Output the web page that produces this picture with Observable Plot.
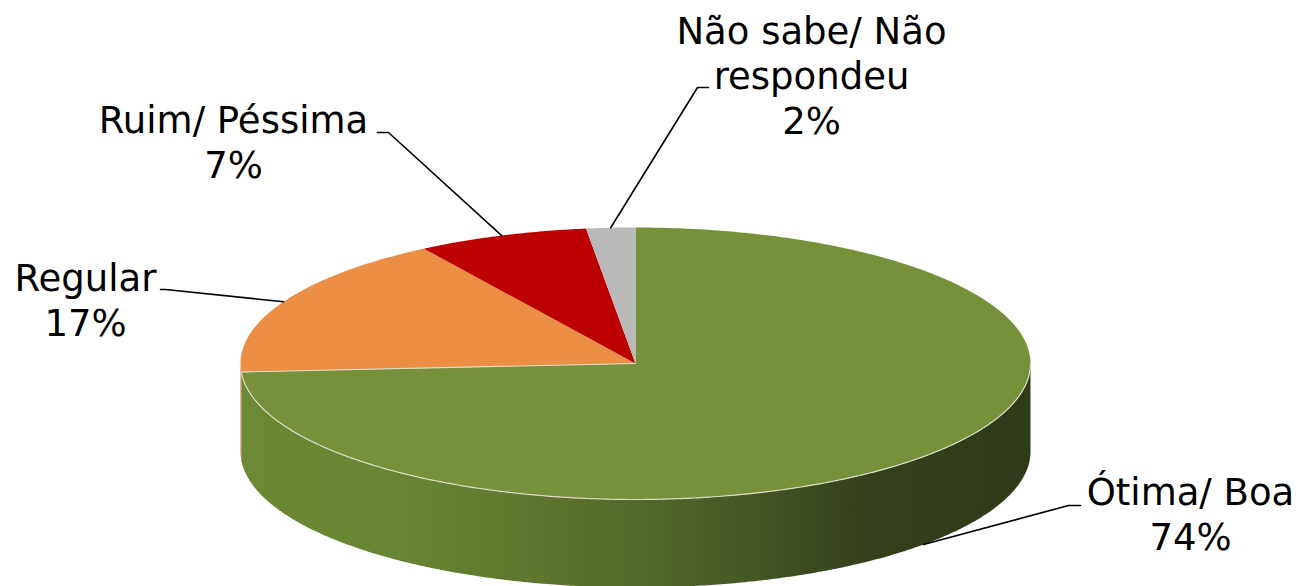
<!DOCTYPE html>
<html>
<head>
<meta charset="utf-8">
<script src="https://cdn.jsdelivr.net/npm/d3@7"></script>
<script src="https://cdn.jsdelivr.net/npm/@observablehq/plot@0.6"></script>
<style>
  html, body { margin: 0; padding: 0; background: #fff; }
  #chart svg { display: block; }
</style>
</head>
<body>
<div id="chart"></div>
<script>
// ---- data ----
const categories = ["Ótima/ Boa", "Regular", "Ruim/ Péssima", "Não sabe/ Não respondeu"];
const values = [74, 17, 7, 2];
const labelLines = [["Ótima/ Boa"], ["Regular"], ["Ruim/ Péssima"], ["Não sabe/ Não", "respondeu"]];

// ---- styles ----
const topColors = ["#76913a", "#ec8f45", "#bc0000", "#b9b9b9"];
const wallStops = [
  [["0%", "#6c8934"], ["20%", "#698532"], ["35%", "#60782f"], ["50%", "#546a2b"], ["65%", "#455624"], ["80%", "#343f1b"], ["100%", "#2f3a19"]],
  [["0%", "#c8763a"], ["100%", "#c8763a"]],
  [["0%", "#9a0000"], ["100%", "#9a0000"]],
  [["0%", "#999999"], ["100%", "#999999"]]
];

// ---- layout ----
const W = 1303, H = 586;
const cx = 635, cy = 363, rx = 395, ry = 136, depth = 88;
const fontSize = 37, lineGap = 45;
// label block: center x, baseline of first line
const labelPos = [[1190, 504], [85, 290], [233, 132], [811, 43]];
// leader lines: kink point and end point (start is computed on the slice)
const leaderKink = [[1068, 505], [165, 289], [388, 132], [697, 87]];
const leaderEnd = [[1080, 505], [160, 289], [377, 132], [708, 87]];

const total = d3.sum(values);
const deg = Math.PI / 180;
const pt = (a, dz = 0) => ({x: cx + rx * Math.sin(a), y: cy - ry * Math.cos(a) + dz});
const arcPts = (a0, a1, dz = 0) => {
  const n = Math.max(2, Math.ceil(Math.abs(a1 - a0) / (0.5 * deg)));
  return d3.range(n + 1).map(i => pt(a0 + (a1 - a0) * i / n, dz));
};

// slice angles clockwise from 12 o'clock
let acc = 0;
const slices = values.map((v, i) => {
  const a0 = acc / total * 2 * Math.PI;
  acc += v;
  const a1 = acc / total * 2 * Math.PI;
  return {i, name: categories[i], value: v, a0, a1, mid: (a0 + a1) / 2};
});

// top faces
const tops = slices.map(s => [{x: cx, y: cy}, ...arcPts(s.a0, s.a1), {x: cx, y: cy}]);

// front walls (visible between 90° and 270°)
const walls = slices.map(s => {
  const lo = Math.max(s.a0, 90 * deg), hi = Math.min(s.a1, 270 * deg);
  if (hi <= lo) return null;
  const topE = arcPts(lo, hi);
  const botE = arcPts(hi, lo, depth);
  return [...topE, ...botE, topE[0]];
});

// light edge along front of top face + green/orange boundary
const g = slices[0];
const edge = [{x: cx, y: cy}, ...arcPts(g.a1, 90 * deg)];

// leader lines
const leaders = slices.map(s => {
  let start;
  const a = s.mid;
  if (a > 90 * deg && a < 270 * deg) start = pt(a, depth); else start = pt(a);
  return [start, {x: leaderKink[s.i][0], y: leaderKink[s.i][1]}, {x: leaderEnd[s.i][0], y: leaderEnd[s.i][1]}];
});

// text rows
const texts = [];
slices.forEach(s => {
  const lines = [...labelLines[s.i], `${s.value}%`];
  lines.forEach((t, k) => texts.push({x: labelPos[s.i][0], y: labelPos[s.i][1] + k * lineGap, t}));
});

const marks = [];
walls.forEach((w, i) => {
  if (w) marks.push(Plot.line(w, {x: "x", y: "y", fill: `url(#wall${i})`, stroke: "none", curve: "linear"}));
});
tops.forEach((t, i) => marks.push(Plot.line(t, {x: "x", y: "y", fill: topColors[i], stroke: "none", curve: "linear"})));
marks.push(Plot.line(edge, {x: "x", y: "y", stroke: "#dcdccb", strokeWidth: 1.2}));
leaders.forEach(l => marks.push(Plot.line(l, {x: "x", y: "y", stroke: "#000", strokeWidth: 1.6})));
marks.push(Plot.text(texts, {
  x: "x", y: "y", text: "t", textAnchor: "middle", lineAnchor: "bottom",
  fontSize, fill: "#000"
}));

const chart = Plot.plot({
  width: W, height: H,
  margin: 0,
  style: {fontFamily: "'DejaVu Sans', Verdana, sans-serif", background: "#fff"},
  x: {domain: [0, W], range: [0, W], axis: null},
  y: {domain: [0, H], range: [0, H], axis: null},
  marks
});

// gradients for the walls
const xs = chart.scale("x");
const svgNS = "http://www.w3.org/2000/svg";
const defs = document.createElementNS(svgNS, "defs");
wallStops.forEach((stops, i) => {
  const lg = document.createElementNS(svgNS, "linearGradient");
  lg.setAttribute("id", `wall${i}`);
  lg.setAttribute("gradientUnits", "userSpaceOnUse");
  lg.setAttribute("x1", xs.apply(cx - rx));
  lg.setAttribute("x2", xs.apply(cx + rx));
  lg.setAttribute("y1", 0);
  lg.setAttribute("y2", 0);
  stops.forEach(([o, c]) => {
    const st = document.createElementNS(svgNS, "stop");
    st.setAttribute("offset", o);
    st.setAttribute("stop-color", c);
    lg.appendChild(st);
  });
  defs.appendChild(lg);
});
chart.insertBefore(defs, chart.firstChild);
document.getElementById("chart").appendChild(chart);
</script>
</body>
</html>
